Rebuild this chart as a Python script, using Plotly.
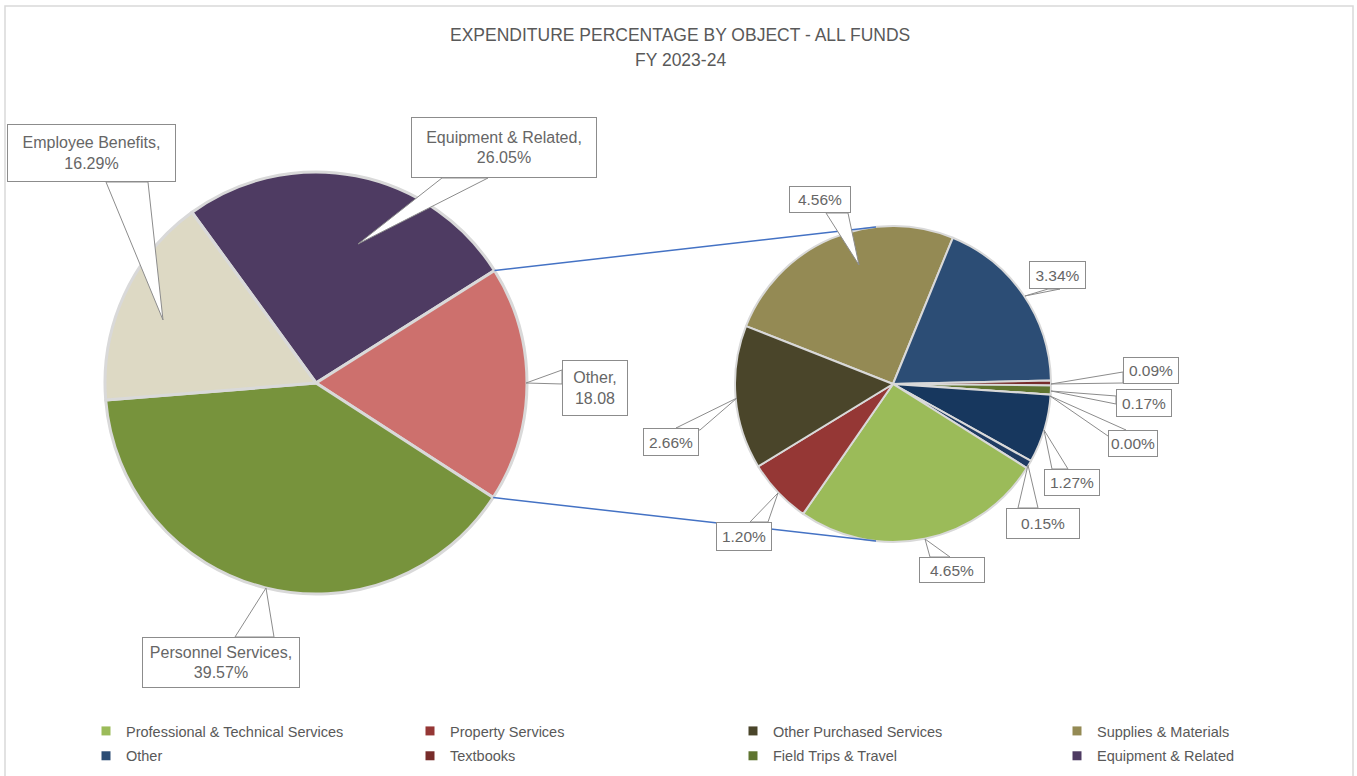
import math
import plotly.graph_objects as go

W, H = 1357, 776

# ---------------- data ----------------
main_labels = ["Equipment & Related", "Other", "Personnel Services", "Employee Benefits"]
main_values = [26.05, 18.08, 39.57, 16.29]
main_colors = ["#4E3B62", "#CD706D", "#77933C", "#DDD9C4"]

sub_labels = ["Supplies & Materials", "Other", "Textbooks", "Field Trips & Travel",
              "Miscellaneous A", "Miscellaneous B", "Miscellaneous C",
              "Professional & Technical Services", "Property Services", "Other Purchased Services"]
sub_values = [4.56, 3.34, 0.09, 0.17, 0.00, 1.27, 0.15, 4.65, 1.20, 2.66]
sub_colors = ["#948A54", "#2C4D75", "#772C2A", "#5F7530", "#1F497D", "#17375E", "#1F3B62",
              "#9BBB59", "#953735", "#4A452A"]

legend_labels = ["Professional & Technical Services", "Property Services", "Other Purchased Services",
                 "Supplies & Materials", "Other", "Textbooks", "Field Trips & Travel", "Equipment & Related"]
legend_colors = ["#9BBB59", "#953735", "#4A452A", "#948A54", "#2C4D75", "#772C2A", "#5F7530", "#4E3B62"]

title_lines = ["EXPENDITURE PERCENTAGE BY OBJECT - ALL FUNDS", "FY 2023-24"]

# ---------------- layout geometry (pixels) ----------------
C1, R1 = (316, 383), 211
C2, R2 = (893, 384), 158
ROT1, ROT2 = -36, -68.5


def px(x):
    return x / W


def py(y):
    return 1 - y / H


def dom(c, r):
    return dict(x=[px(c[0] - r), px(c[0] + r)], y=[py(c[1] + r), py(c[1] - r)])


FONT = "Liberation Sans, Arial, sans-serif"
TXT = "#595959"
LBL = "#666666"

fig = go.Figure()
fig.add_trace(go.Pie(labels=main_labels, values=main_values, sort=False, direction="clockwise",
                     rotation=ROT1, marker=dict(colors=main_colors, line=dict(color="#D9D9D9", width=3)),
                     textinfo="none", domain=dom(C1, R1), showlegend=False, name="main"))
fig.add_trace(go.Pie(labels=sub_labels, values=sub_values, sort=False, direction="clockwise",
                     rotation=ROT2, marker=dict(colors=sub_colors, line=dict(color="#D9D9D9", width=2)),
                     textinfo="none", domain=dom(C2, R2), showlegend=False, name="sub"))

# legend: 4 columns x 2 rows, one vertical legend per column
col_text_x = [123, 447, 770, 1094]
for i, (lab, col) in enumerate(zip(legend_labels, legend_colors)):
    c = i % 4
    lname = "legend" if c == 0 else "legend%d" % (c + 1)
    fig.add_trace(go.Scatter(x=[None], y=[None], mode="markers", name=lab, legend=lname,
                             legendgroup="g%d" % i,
                             marker=dict(symbol="square", size=9, color=col)))

legends = {}
for c, tx in enumerate(col_text_x):
    lname = "legend" if c == 0 else "legend%d" % (c + 1)
    legends[lname] = dict(orientation="v", x=px(tx - 37), y=py(715), xanchor="left", yanchor="top",
                          bgcolor="rgba(0,0,0,0)", tracegroupgap=3, traceorder="grouped",
                          font=dict(family=FONT, size=14.5, color=TXT))

# connector lines from the "Other" slice of the main pie to the secondary pie
tot = sum(main_values)
a0 = ROT1 + 360 * main_values[0] / tot
a1 = a0 + 360 * main_values[1] / tot
shapes = []
for ang, (tx, ty) in [(a0, (876, 227)), (a1, (876, 541))]:
    r = math.radians(ang)
    sx, sy = C1[0] + R1 * math.sin(r), C1[1] - R1 * math.cos(r)
    shapes.append(dict(type="line", xref="paper", yref="paper", x0=px(sx), y0=py(sy),
                       x1=px(tx), y1=py(ty), line=dict(color="#4472C4", width=1.5), layer="above"))

# chart border
shapes.append(dict(type="rect", xref="paper", yref="paper", x0=px(5), y0=py(800), x1=px(1353), y1=py(6),
                   line=dict(color="#D9D9D9", width=1.5), layer="below"))

# callouts: text, box (x0, y0, x1, y1), wedge base points, tip
main_text = ["Equipment & Related,<br>%.2f%%" % main_values[0],
             "Other,<br>%.2f" % main_values[1],
             "Personnel Services,<br>%.2f%%" % main_values[2],
             "Employee Benefits,<br>%.2f%%" % main_values[3]]
main_call = [
    ((411, 117, 597, 178), [(442, 178), (488, 178)], (358, 244)),
    ((562, 360, 628, 416), [(562, 370), (562, 384)], (526, 383)),
    ((142, 637, 300, 688), [(235, 637), (274, 637)], (266, 588)),
    ((7, 124, 176, 182), [(106, 182), (148, 182)], (163, 320)),
]
sub_text = ["%.2f%%" % v for v in sub_values]
sub_call = [
    ((789, 186, 851, 213), [(826, 213), (848, 213)], (859, 265)),
    ((1029, 261, 1086, 289), [(1048, 289), (1060, 289)], (1025, 296)),
    ((1123, 357, 1179, 384), [(1123, 372), (1123, 383)], (1051, 384)),
    ((1116, 389, 1172, 417), [(1116, 396), (1116, 404)], (1051, 391)),
    ((1108, 430, 1158, 457), [(1108, 436), (1126, 430)], (1050, 396)),
    ((1044, 469, 1100, 496), [(1052, 469), (1068, 469)], (1044, 430)),
    ((1006, 508, 1080, 539), [(1018, 508), (1038, 508)], (1028, 465)),
    ((919, 557, 985, 583), [(930, 557), (950, 557)], (925, 539)),
    ((716, 522, 772, 551), [(750, 522), (768, 522)], (778, 493)),
    ((643, 428, 699, 456), [(676, 428), (700, 430)], (737, 398)),
]

annotations = []
items = [(t, c, 16) for t, c in zip(main_text, main_call)] + [(t, c, 15.5) for t, c in zip(sub_text, sub_call)]
for txt, (box, base, tip), fs in items:
    x0, y0, x1, y1 = box
    path = "M %f %f L %f %f L %f %f Z" % (px(base[0][0]), py(base[0][1]), px(tip[0]), py(tip[1]),
                                           px(base[1][0]), py(base[1][1]))
    shapes.append(dict(type="path", xref="paper", yref="paper", path=path, fillcolor="white",
                       line=dict(color="#8C8C8C", width=1), layer="above"))
    annotations.append(dict(x=px((x0 + x1) / 2), y=py((y0 + y1) / 2), xref="paper", yref="paper",
                            text=txt, showarrow=False, xanchor="center", yanchor="middle",
                            width=x1 - x0 - 2, height=y1 - y0 - 2, borderpad=0, bgcolor="white",
                            bordercolor="#8C8C8C", borderwidth=1,
                            font=dict(family=FONT, size=fs, color=LBL)))

for line, ly in zip(title_lines, [35, 60]):
    annotations.append(dict(x=px(680), y=py(ly), xref="paper", yref="paper", text=line,
                            showarrow=False, xanchor="center", yanchor="middle",
                            font=dict(family=FONT, size=17.5, color=TXT)))

fig.update_layout(
    width=W, height=H, margin=dict(l=0, r=0, t=0, b=0, autoexpand=False),
    paper_bgcolor="white", plot_bgcolor="white",
    xaxis=dict(visible=False), yaxis=dict(visible=False),
    shapes=shapes, annotations=annotations,
    **legends,
)

fig.write_html("out.html")
